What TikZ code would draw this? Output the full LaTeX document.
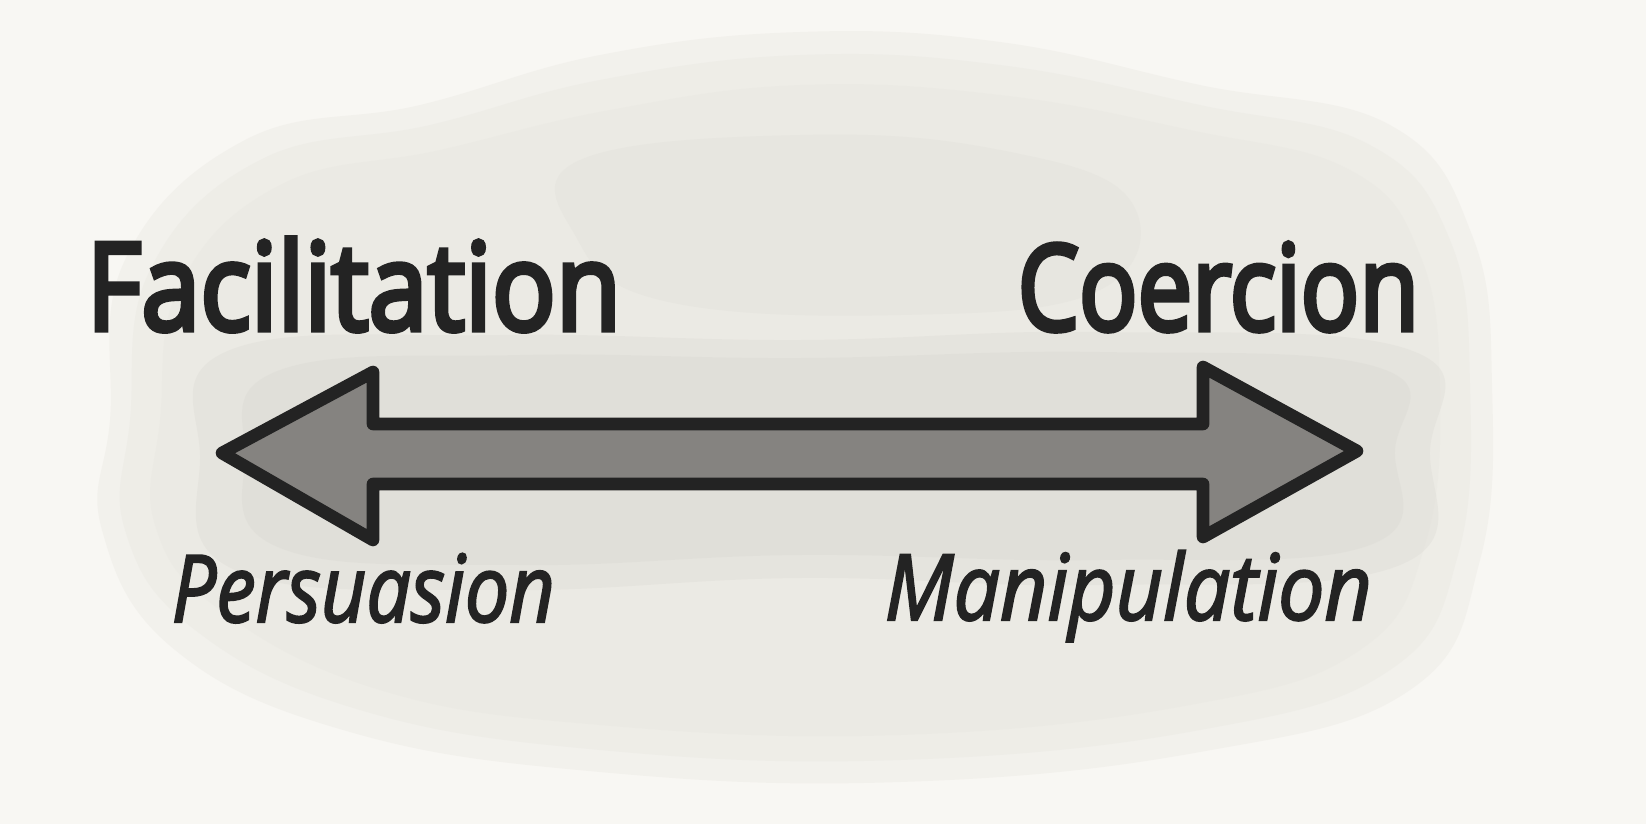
\documentclass[tikz,border=0pt]{standalone}
\usepackage{fontspec}
\setmainfont{Open Sans}
\newfontfamily\handup{Open Sans}[FakeBold=4.5]
\newfontfamily\handit{Open Sans Italic}[FakeBold=2.4]
\usepackage{graphicx}
\definecolor{paper}{HTML}{F8F7F3}
\definecolor{wash}{HTML}{E6E4DE}
\definecolor{washdark}{HTML}{D2D0CA}
\definecolor{ink}{HTML}{232323}
\definecolor{arrowfill}{HTML}{858380}
\tikzset{
  lbl/.style={anchor=base west, inner sep=0pt, text=ink},
  bigarrow/.style={draw=ink, fill=arrowfill, line width=3.6pt, line join=round},
  washlayer/.style={fill=wash, opacity=0.3},
}
\begin{document}
\begin{tikzpicture}[x=0.01cm, y=-0.01cm]
\useasboundingbox (0,0) rectangle (1646,824);
\fill[paper] (0,0) rectangle (1646,824);
% watercolour wash, several soft layers
\fill[washlayer] plot[smooth cycle, tension=0.7] coordinates {
  (110,420) (125,260) (245,140) (420,105) (600,55) (800,32) (1000,42) (1200,85)
  (1390,125) (1472,235) (1492,385) (1480,560) (1410,690) (1200,752) (900,782)
  (600,772) (350,732) (175,650) (102,530)};
\fill[washlayer] plot[smooth cycle, tension=0.7] coordinates {
  (130,420) (150,270) (260,160) (430,125) (600,80) (800,55) (1000,65) (1200,105)
  (1370,145) (1450,240) (1470,385) (1458,555) (1390,670) (1200,730) (900,760)
  (600,750) (360,710) (195,630) (125,530)};
\fill[washlayer] plot[smooth cycle, tension=0.7] coordinates {
  (160,420) (180,285) (280,185) (440,150) (610,110) (800,85) (1000,95) (1190,130)
  (1350,170) (1420,255) (1440,390) (1425,545) (1360,650) (1190,705) (900,735)
  (600,725) (380,690) (220,610) (155,525)};
\fill[washdark, opacity=0.22] plot[smooth cycle, tension=0.7] coordinates {
  (230,350) (500,335) (800,340) (1100,332) (1410,350) (1430,450) (1400,565)
  (1100,585) (800,578) (500,590) (235,570) (200,455)};
\fill[washdark, opacity=0.22] plot[smooth cycle, tension=0.7] coordinates {
  (280,370) (520,355) (800,358) (1100,352) (1380,368) (1395,450) (1370,545)
  (1100,560) (800,555) (520,565) (280,548) (245,455)};
\fill[washdark, opacity=0.15] plot[smooth cycle, tension=0.7] coordinates {
  (580,160) (800,135) (1000,150) (1130,200) (1100,290) (900,315) (660,300) (575,235)};
% arrow
\coordinate (ltip) at (222,453);
\coordinate (rtip) at (1357,451);
\draw[bigarrow] (ltip) -- (373,372) -- (373,424) -- (1203,424) -- (1203,367)
  -- (rtip) -- (1203,537) -- (1203,484) -- (373,484) -- (373,540) -- cycle;
% labels
\node[lbl] (fac) at (86,330) {\resizebox{5.34cm}{\height}{\handup\fontsize{34.5}{40}\selectfont Facilitation}};
\node[lbl] (coe) at (1017,330) {\resizebox{4.01cm}{\height}{\handup\fontsize{33.8}{40}\selectfont Coercion}};
\node[lbl] (per) at (171,622) {\resizebox{3.83cm}{\height}{\handit\fontsize{26.5}{32}\selectfont Persuasion}};
\node[lbl] (man) at (884,620) {\resizebox{4.87cm}{\height}{\handit\fontsize{26}{32}\selectfont Manipulation}};
\end{tikzpicture}
\end{document}
